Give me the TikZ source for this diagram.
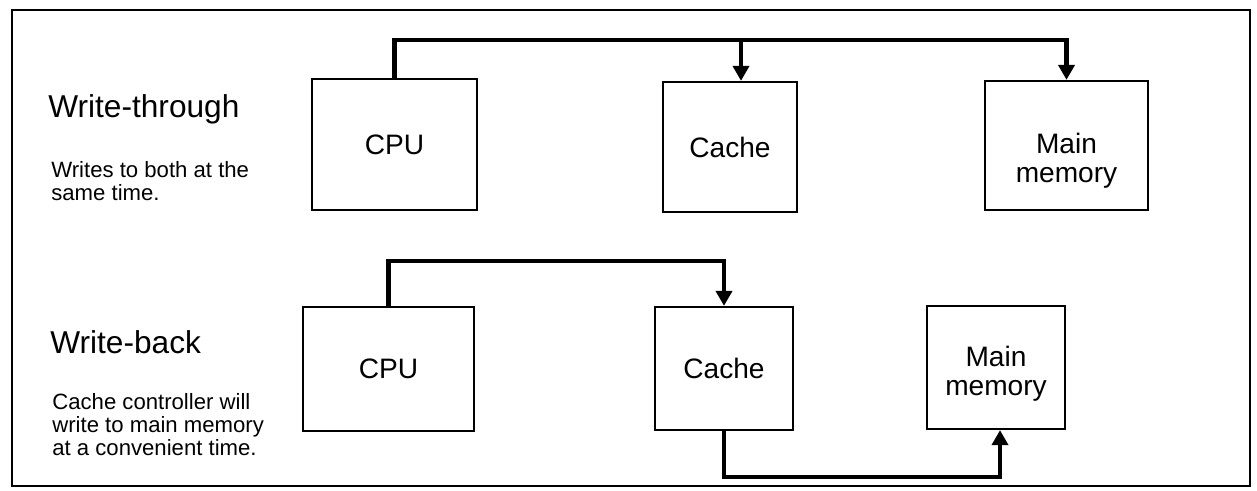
\documentclass[tikz,border=0pt]{standalone}
\usepackage{fontspec}
\setmainfont{Liberation Sans}
\usetikzlibrary{arrows.meta}
\definecolor{inkblack}{RGB}{0,0,0}
\tikzset{
  unit/.style={rectangle, draw=inkblack, line width=1.3pt,
    align=center, font=\fontsize{16}{16.5}\selectfont, inner sep=0pt},
  unittext/.style={align=center, inner sep=0pt,
    font=\fontsize{16}{16.5}\selectfont},
  modetitle/.style={anchor=base west, inner sep=0pt,
    font=\fontsize{18}{20}\selectfont},
  modenote/.style={anchor=north west, align=left, inner sep=0pt,
    font=\fontsize{12.6}{13}\selectfont},
  busarrow/.style={-{Triangle[width=0.32cm,length=0.3cm]},
    line width=2.6pt, color=inkblack}
}

\begin{document}
\begin{tikzpicture}[x=0.02cm, y=-0.02cm]
  \useasboundingbox (0,0) rectangle (1257,490);

  % Outer frame
  \draw[line width=1.1pt, color=inkblack] (12,10) rectangle (1250,486);

  % Write-through
  \node[modetitle] (wtTitle) at (48,117) {Write-through};
  \node[modenote] (wtNote) at (51,161) {Writes to both at the\\same time.};

  \node[unit, minimum width=3.30cm, minimum height=2.62cm] (cpuT) at (394.5,144.5) {CPU};
  \node[unit, minimum width=2.68cm, minimum height=2.60cm] (cacheT) at (730,147) {Cache};
  \node[unit, minimum width=3.26cm, minimum height=2.58cm] (memT) at (1066.5,145.5) {};
  \node[unittext] (memTtext) at ([yshift=-0.3cm]memT.center) {Main\\memory};

  \coordinate (busT) at (0,40);
  \coordinate (tapT) at (741,40);
  \draw[busarrow] (cpuT.north) |- (memT.north |- busT) -- (memT.north);
  \draw[busarrow] (tapT) -- (tapT |- cacheT.north);

  % Write-back
  \node[modetitle] (wbTitle) at (50,353) {Write-back};
  \node[modenote] (wbNote) at (52,393) {Cache controller will\\write to main memory\\at a convenient time.};

  \node[unit, minimum width=3.42cm, minimum height=2.48cm] (cpuB) at (388.5,369) {CPU};
  \node[unit, minimum width=2.76cm, minimum height=2.46cm] (cacheB) at (724,368.5) {Cache};
  \node[unit, minimum width=2.76cm, minimum height=2.46cm] (memB) at (996,367.5) {};
  \node[unittext] (memBtext) at ([yshift=-0.12cm]memB.center) {Main\\memory};

  \coordinate (busB) at (0,261);
  \coordinate (retB) at (0,477);
  \draw[busarrow] (cpuB.north) |- (cacheB.north |- busB) -- (cacheB.north);
  \draw[busarrow] (cacheB.south) |- ([xshift=0.08cm]memB.south |- retB) -- ([xshift=0.08cm]memB.south);

\end{tikzpicture}
\end{document}
